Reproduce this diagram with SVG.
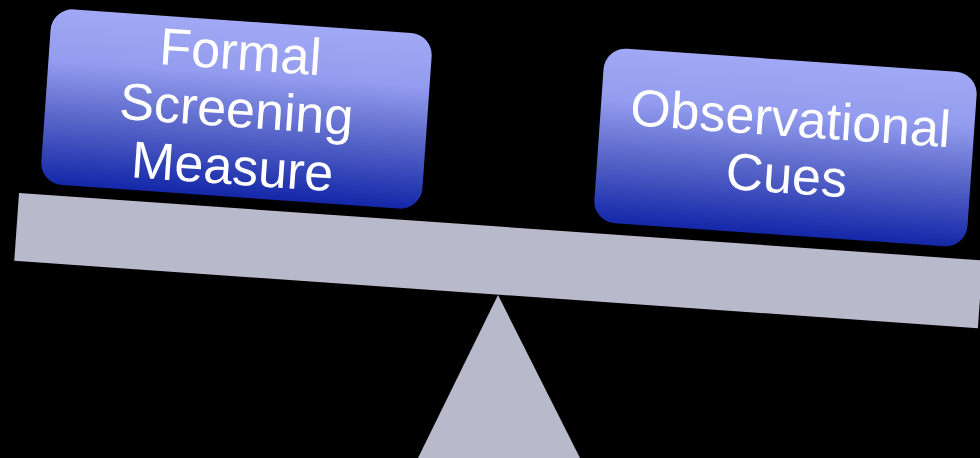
<svg xmlns="http://www.w3.org/2000/svg" width="980" height="458" viewBox="0 0 980 458">
  <defs>
    <linearGradient id="boxGrad" x1="0" y1="0" x2="0" y2="1">
      <stop offset="0" stop-color="#A1A9F5"/>
      <stop offset="0.3" stop-color="#939CEE"/>
      <stop offset="0.6" stop-color="#5D6ACB"/>
      <stop offset="1" stop-color="#1327A8"/>
    </linearGradient>
    <style>
      .plank { fill: #B8B9CA; }
      .box { fill: url(#boxGrad); }
      .label { font-family: "Liberation Sans", Arial, sans-serif; font-size: 52px; fill: #FFFFFF; text-anchor: middle; }
    </style>
  </defs>
  <rect width="980" height="458" fill="#000000"/>
  <g id="fulcrum">
    <polygon class="plank" points="498,295 418,458 580,458"/>
  </g>
  <g id="beam">
    <rect class="plank" x="19" y="193" width="966" height="68" transform="rotate(4 19 193)"/>
  </g>
  <g id="formal-screening-measure" transform="translate(236.5 109) rotate(4)">
    <rect class="box" x="-191" y="-88" width="382" height="176" rx="22" ry="22"/>
    <text class="label" x="0" y="-39.5">Formal</text>
    <text class="label" x="0" y="18">Screening</text>
    <text class="label" x="0" y="75.5">Measure</text>
  </g>
  <g id="observational-cues" transform="translate(785.5 147.5) rotate(4)">
    <rect class="box" x="-187" y="-87.5" width="374" height="175" rx="22" ry="22"/>
    <text class="label" x="3" y="-11.5">Observational</text>
    <text class="label" x="3" y="45.5">Cues</text>
  </g>
  <g id="connectors"/>
</svg>
